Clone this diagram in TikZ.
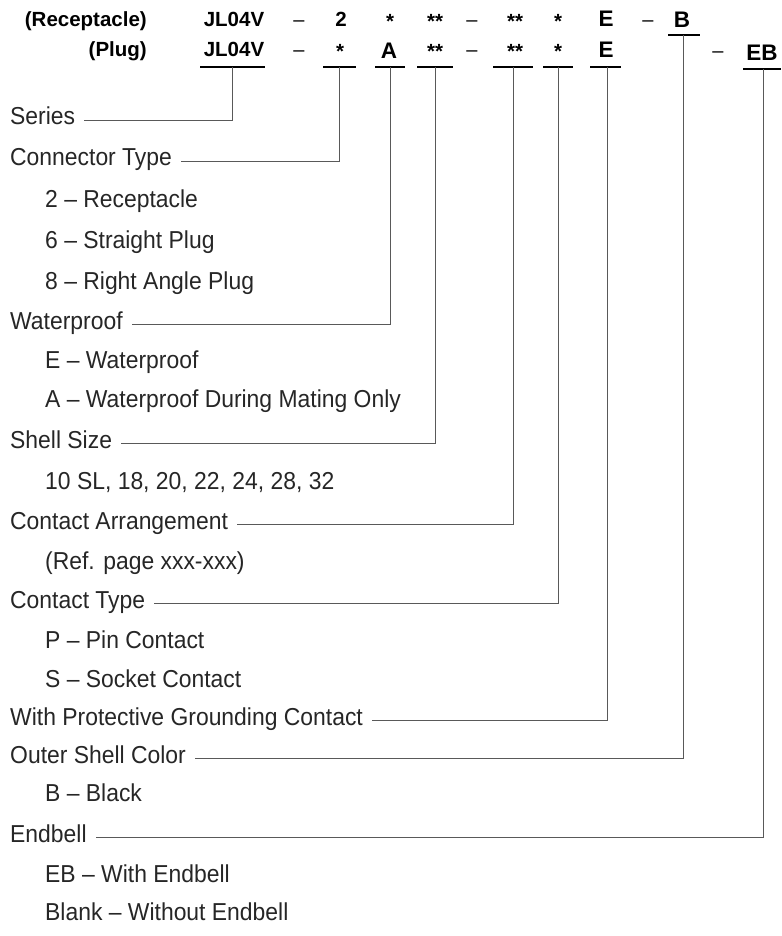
\documentclass[tikz,border=0pt]{standalone}
\usepackage{fontspec}
\setmainfont{Liberation Sans}
\newfontfamily\bodyfont[FakeStretch=0.935]{Liberation Sans}
\usetikzlibrary{calc}
\begin{document}
\begin{tikzpicture}[x=1pt,y=-1pt,
  body/.style={inner sep=0pt,anchor=base west,text=black!85,font=\bodyfont\fontsize{24.5}{28}\selectfont},
  head/.style={inner sep=0pt,anchor=base,font=\fontsize{20.5}{24}\selectfont\bfseries},
  headbig/.style={inner sep=0pt,anchor=base,font=\fontsize{22.5}{26}\selectfont\bfseries},
  headdash/.style={inner sep=0pt,anchor=base,font=\fontsize{20}{24}\selectfont},
  headl/.style={inner sep=0pt,anchor=base east,font=\fontsize{20.5}{24}\selectfont\bfseries},
  uline/.style={line width=1.8pt},
  leader/.style={line width=0.6pt,draw=black!65}]
\useasboundingbox (0,0) rectangle (781,936);
% header rows
\node[headl] (rrec) at (147,27) {(Receptacle)};
\node[headl] (rplug) at (147,57) {(Plug)};
\node[head] (r1) at (234,27) {JL04V};
\node[headdash] (r2) at (299,27) {–};
\node[head] (r3) at (341,27) {2};
\node[head] (r4) at (390,29) {*};
\node[head] (r5) at (435,29) {**};
\node[headdash] (r6) at (472,27) {–};
\node[head] (r7) at (515,29) {**};
\node[head] (r8) at (558,29) {*};
\node[headbig] (r9) at (606,27) {E};
\node[headdash] (r10) at (648,27) {–};
\node[headbig] (r11) at (682,28) {B};
\node[head] (p1) at (234,57) {JL04V};
\node[headdash] (p2) at (299,57) {–};
\node[head] (p3) at (340,59) {*};
\node[headbig] (p4) at (389,59) {A};
\node[head] (p5) at (435,59) {**};
\node[headdash] (p6) at (472,57) {–};
\node[head] (p7) at (515,59) {**};
\node[head] (p8) at (558,59) {*};
\node[headbig] (p9) at (606,58) {E};
\node[headdash] (p10) at (718,58) {–};
\node[headbig] (p11) at (762,61) {EB};
% underlines
\coordinate (u1) at (232,67); \draw[uline] (200,67) -- (265,67);
\coordinate (u2) at (339,67); \draw[uline] (323,67) -- (356,67);
\coordinate (u3) at (390,67); \draw[uline] (375,67) -- (405,67);
\coordinate (u4) at (435,67); \draw[uline] (417,67) -- (453,67);
\coordinate (u5) at (513,67); \draw[uline] (493,67) -- (533,67);
\coordinate (u6) at (558,67); \draw[uline] (543,67) -- (573,67);
\coordinate (u7) at (607,67); \draw[uline] (590,67) -- (621,67);
\coordinate (u8) at (683,35); \draw[uline] (668,35) -- (700,35);
\coordinate (u9) at (763,69); \draw[uline] (743,69) -- (781,69);
% body text
\node[body] (t1) at (10,125) {Series};
\node[body] (t2) at (10,166) {Connector Type};
\node[body] (s21) at (45,207) {2 – Receptacle};
\node[body] (s22) at (45,248) {6 – Straight Plug};
\node[body] (s23) at (45,289) {8 – Right Angle Plug};
\node[body] (t3) at (10,329) {Waterproof};
\node[body] (s31) at (45,368) {E – Waterproof};
\node[body] (s32) at (45,407) {A – Waterproof During Mating Only};
\node[body] (t4) at (10,448) {Shell Size};
\node[body] (s41) at (45,489) {10 SL, 18, 20, 22, 24, 28, 32};
\node[body] (t5) at (10,529) {Contact Arrangement};
\node[body] (s51) at (45,569) {(Ref. page xxx-xxx)};
\node[body] (t6) at (10,608) {Contact Type};
\node[body] (s61) at (45,648) {P – Pin Contact};
\node[body] (s62) at (45,687) {S – Socket Contact};
\node[body] (t7) at (10,725) {With Protective Grounding Contact};
\node[body] (t8) at (10,763) {Outer Shell Color};
\node[body] (s81) at (45,801) {B – Black};
\node[body] (t9) at (10,842) {Endbell};
\node[body] (s91) at (45,882) {EB – With Endbell};
\node[body] (s92) at (45,920) {Blank – Without Endbell};
% leaders
\foreach \t/\u in {t1/u1,t2/u2,t3/u3,t4/u4,t5/u5,t6/u6,t7/u7,t8/u8,t9/u9}{
  \coordinate (l\t) at ($(\t.base east)+(9,-5)$);
  \draw[leader] (\u) |- (l\t);
}
\end{tikzpicture}
\end{document}
